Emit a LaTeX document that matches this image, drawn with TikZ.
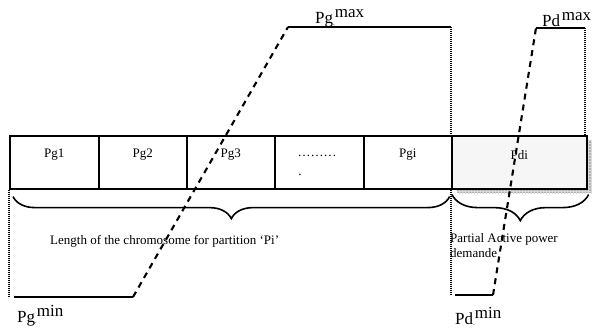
\documentclass[tikz,border=0pt]{standalone}
\usepackage{fontspec}
\setmainfont{Liberation Serif}
\usetikzlibrary{patterns,decorations.pathreplacing}

\newcommand{\plim}[2]{#1\raisebox{-1.5pt}{\fontsize{7}{7}\selectfont .}\raisebox{6pt}{#2}}

\tikzset{
  cell/.style={draw, line width=1.6pt, minimum height=53pt, inner sep=0pt, anchor=north west},
  txt/.style={font=\fontsize{13}{15}\selectfont, inner sep=0pt},
  big/.style={font=\fontsize{17}{19}\selectfont, inner sep=0pt, anchor=base west},
  lvl/.style={line width=2.3pt},
  ramp/.style={line width=2.1pt, dash pattern=on 6pt off 5pt},
  guide/.style={line width=1.3pt, dash pattern=on 1pt off 1pt},
  brc/.style={line width=1.6pt, decorate, decoration={brace, mirror, amplitude=#1}}
}

\begin{document}
\begin{tikzpicture}[x=1pt, y=-1pt]
  \useasboundingbox (0,0) rectangle (592,329);
  % shadow of the demand cell
  \fill[gray!60] (457,140) rectangle (593,193);
  \fill[pattern=grid, pattern color=gray!30] (457,140) rectangle (593,193);
  % chromosome cells
  \node[cell, minimum width=89pt] (c1) at (9,135) {};
  \node[cell, minimum width=88pt] (c2) at (98,135) {};
  \node[cell, minimum width=88pt] (c3) at (186,135) {};
  \node[cell, minimum width=89pt] (c4) at (274,135) {};
  \node[cell, minimum width=88pt] (c5) at (363,135) {};
  \node[cell, minimum width=135pt, fill=gray!7] (pd) at (451,135) {};
  \node[txt] (t1) at (c1.center |- 0,155) {Pg1};
  \node[txt] (t2) at (c2.center |- 0,155) {Pg2};
  \node[txt] (t3) at (c3.center |- 0,155) {Pg3};
  \node[txt] (t4) at (317,156) {………};
  \node[txt] (t4b) at (300,175) {.};
  \node[txt] (t5) at (c5.center |- 0,155) {Pgi};
  \node[txt] (t6) at (pd.center |- 0,155) {Pdi};
  % braces and their notes
  \draw[brc=22pt] ([shift={(4,7)}]c1.south west) -- ([shift={(-3,7)}]c5.south east);
  \draw[brc=26pt] ([shift={(1,5)}]pd.south west) -- ([shift={(1,5)}]pd.south east);
  \node[txt, anchor=west] (len) at (50,241) {Length of the chromosome for partition ‘Pi’};
  \node[txt, anchor=north west, align=left] (dem) at (450,233) {Partial Active power\\demande};
  % generation limits
  \coordinate (gmin0) at (14,297);
  \coordinate (gmin) at (133,297);
  \coordinate (gmax) at (288,27);
  \coordinate (gmax1) at (451,27);
  \draw[guide] (c1.south west) -- (c1.south west |- gmin0);
  \draw[guide] (gmax1) -- (pd.north west);
  \draw[lvl] (gmin0) -- (gmin);
  \draw[lvl] (gmax) -- (gmax1);
  \draw[ramp] (gmin) -- (gmax);
  \node[big] (lgmax) at (315,24) {\plim{Pg}{max}};
  \node[big] (lgmin) at (17,322) {\plim{Pg}{min}};
  % demand limits
  \coordinate (dmin0) at (455,295);
  \coordinate (dmin) at (493,295);
  \coordinate (dmax) at (536,28);
  \coordinate (dmax1) at (585,28);
  \draw[guide] (pd.south west) -- (pd.south west |- dmin0);
  \draw[guide] (dmax1) -- (dmax1 |- pd.north);
  \draw[lvl] (dmin0) -- (dmin);
  \draw[lvl] (dmax) -- (dmax1);
  \draw[ramp] (dmin) -- (dmax);
  \node[big] (ldmax) at (542,27) {\plim{Pd}{max}};
  \node[big] (ldmin) at (455,324) {\plim{Pd}{min}};
\end{tikzpicture}
\end{document}
